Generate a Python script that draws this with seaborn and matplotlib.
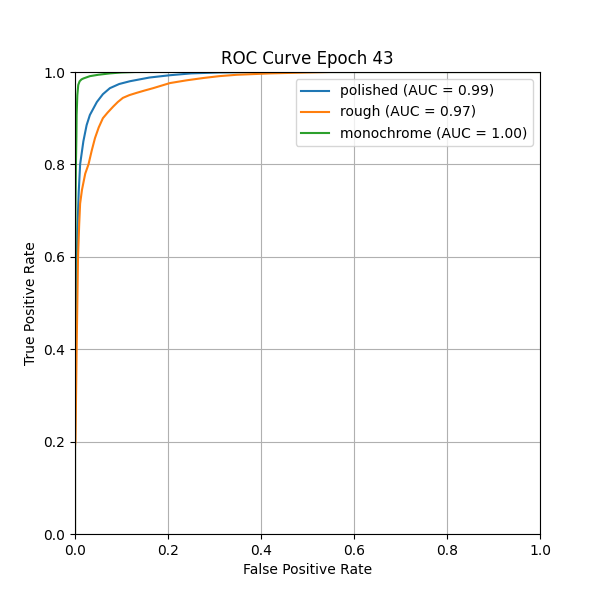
import numpy as np
import matplotlib
matplotlib.use("Agg")
import matplotlib.pyplot as plt
import seaborn as sns
import pandas as pd

# ROC points
classes = ['polished', 'rough', 'monochrome']
aucs = [0.99, 0.97, 1.00]

fpr_polished = [0.0, 0.0, 0.001, 0.002, 0.004, 0.005, 0.008, 0.011, 0.018, 0.025, 0.032, 0.047, 0.06, 0.075, 0.095, 0.118, 0.16, 0.204, 0.25, 0.31, 0.4, 1.0]
tpr_polished = [0.0, 0.2, 0.35, 0.5, 0.6, 0.654, 0.74, 0.80, 0.85, 0.885, 0.907, 0.935, 0.952, 0.965, 0.974, 0.98, 0.988, 0.993, 0.997, 0.999, 1.0, 1.0]

fpr_rough = [0.0, 0.0, 0.001, 0.0035, 0.0065, 0.009, 0.011, 0.015, 0.022, 0.029, 0.036, 0.043, 0.051, 0.06, 0.07, 0.082, 0.092, 0.103, 0.117, 0.133, 0.15, 0.168, 0.204, 0.24, 0.276, 0.31, 0.348, 0.42, 0.5, 0.55, 1.0]
tpr_rough = [0.0, 0.19, 0.2, 0.4, 0.6, 0.67, 0.715, 0.745, 0.78, 0.80, 0.83, 0.857, 0.88, 0.90, 0.912, 0.925, 0.935, 0.944, 0.95, 0.955, 0.96, 0.965, 0.976, 0.982, 0.987, 0.991, 0.994, 0.997, 0.999, 1.0, 1.0]

fpr_mono = [0.0, 0.0, 0.001, 0.002, 0.003, 0.0035, 0.005, 0.007, 0.01, 0.014, 0.018, 0.032, 0.05, 0.075, 0.1, 0.13, 1.0]
tpr_mono = [0.0, 0.4, 0.7, 0.8, 0.86, 0.907, 0.95, 0.972, 0.98, 0.984, 0.986, 0.991, 0.994, 0.997, 0.999, 1.0, 1.0]

fprs = [fpr_polished, fpr_rough, fpr_mono]
tprs = [tpr_polished, tpr_rough, tpr_mono]

fig, ax = plt.subplots(figsize=(6, 6), dpi=100)
colors = sns.color_palette('tab10', 3)
for name, auc, fpr, tpr, c in zip(classes, aucs, fprs, tprs, colors):
    df = pd.DataFrame({'fpr': fpr, 'tpr': tpr})
    sns.lineplot(data=df, x='fpr', y='tpr', estimator=None, sort=False, color=c,
                 label='%s (AUC = %.2f)' % (name, auc), ax=ax)

ax.set_xlim(0, 1)
ax.set_ylim(0, 1)
ax.set_xlabel('False Positive Rate')
ax.set_ylabel('True Positive Rate')
ax.set_title('ROC Curve Epoch 43')
ax.legend(loc='upper right')
ax.grid(True)

plt.savefig('out.png')
